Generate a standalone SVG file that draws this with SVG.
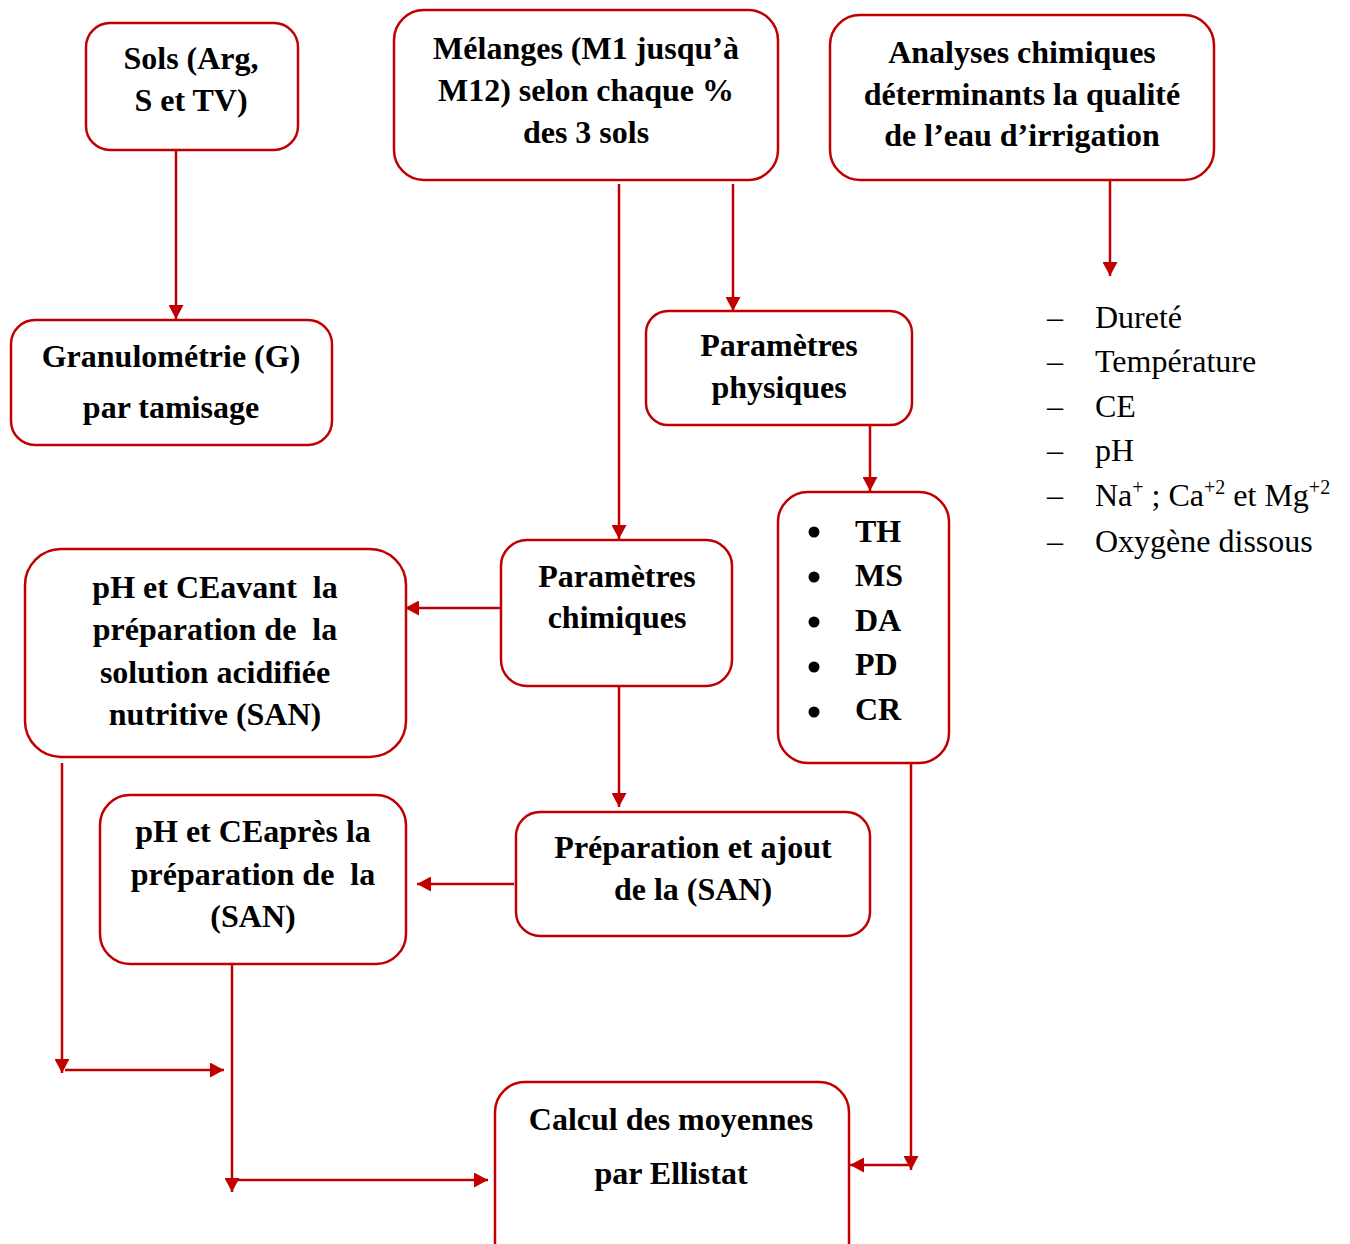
<svg xmlns="http://www.w3.org/2000/svg" width="1350" height="1244" viewBox="0 0 1350 1244">
<style>
.box{fill:#fff;stroke:#C00000;stroke-width:2.5}
.t{font-family:"Liberation Serif","Times New Roman",serif;font-weight:bold;font-size:32px;fill:#000;text-anchor:middle;white-space:pre}
.l{font-family:"Liberation Serif","Times New Roman",serif;font-size:32px;fill:#000}
.c line{stroke:#C00000;stroke-width:2.5;fill:none;marker-end:url(#ah)}
</style>
<defs>
<marker id="ah" markerUnits="userSpaceOnUse" markerWidth="15" markerHeight="15" refX="14" refY="7.5" orient="auto">
<path d="M0,0 L14,7.5 L0,15 z" fill="#C00000"/>
</marker>
</defs>
<rect width="1350" height="1244" fill="#fff"/>
<g class="c">
<line x1="176" y1="150" x2="176" y2="319"/>
<line x1="619" y1="184" x2="619" y2="539"/>
<line x1="733" y1="184" x2="733" y2="311"/>
<line x1="1110" y1="180" x2="1110" y2="276"/>
<line x1="870" y1="425" x2="870" y2="491"/>
<line x1="501" y1="608" x2="405" y2="608"/>
<line x1="619" y1="686" x2="619" y2="807"/>
<line x1="514" y1="884" x2="417" y2="884"/>
<line x1="62" y1="763" x2="62" y2="1073"/>
<line x1="65" y1="1070" x2="224" y2="1070"/>
<line x1="232" y1="964" x2="232" y2="1192"/>
<line x1="235" y1="1180" x2="488" y2="1180"/>
<line x1="911" y1="763" x2="911" y2="1170"/>
<line x1="911" y1="1165" x2="850" y2="1165"/>
</g>
<g id="sols">
<rect class="box" x="86" y="23" width="212" height="127" rx="24"/>
<text class="t" x="191" y="69">Sols (Arg,</text>
<text class="t" x="191" y="111">S et TV)</text>
</g>
<g id="melanges">
<rect class="box" x="394" y="10" width="384" height="170" rx="30"/>
<text class="t" x="586" y="59">Mélanges (M1 jusqu’à</text>
<text class="t" x="586" y="101">M12) selon chaque %</text>
<text class="t" x="586" y="143">des 3 sols</text>
</g>
<g id="analyses">
<rect class="box" x="830" y="15" width="384" height="165" rx="30"/>
<text class="t" x="1022" y="63">Analyses chimiques</text>
<text class="t" x="1022" y="105">déterminants la qualité</text>
<text class="t" x="1022" y="146">de l’eau d’irrigation</text>
</g>
<g id="liste">
<text class="l" x="1047" y="328">–</text><text class="l" x="1095" y="328">Dureté</text>
<text class="l" x="1047" y="372">–</text><text class="l" x="1095" y="372">Température</text>
<text class="l" x="1047" y="417">–</text><text class="l" x="1095" y="417">CE</text>
<text class="l" x="1047" y="461">–</text><text class="l" x="1095" y="461">pH</text>
<text class="l" x="1047" y="506">–</text><text class="l" x="1095" y="506">Na<tspan font-size="20" dy="-12">+</tspan><tspan dy="12"> ; Ca</tspan><tspan font-size="20" dy="-12">+2</tspan><tspan dy="12"> et Mg</tspan><tspan font-size="20" dy="-12">+2</tspan></text>
<text class="l" x="1047" y="552">–</text><text class="l" x="1095" y="552">Oxygène dissous</text>
</g>
<g id="granulo">
<rect class="box" x="11" y="320" width="321" height="125" rx="24"/>
<text class="t" x="171" y="367">Granulométrie (G)</text>
<text class="t" x="171" y="418">par tamisage</text>
</g>
<g id="physiques">
<rect class="box" x="646" y="311" width="266" height="114" rx="22"/>
<text class="t" x="779" y="356">Paramètres</text>
<text class="t" x="779" y="398">physiques</text>
</g>
<g id="chimiques">
<rect class="box" x="501" y="540" width="231" height="146" rx="26"/>
<text class="t" x="617" y="587">Paramètres</text>
<text class="t" x="617" y="628">chimiques</text>
</g>
<g id="mesures">
<rect class="box" x="778" y="492" width="171" height="271" rx="30"/>
<circle cx="814" cy="532" r="5.5"/>
<circle cx="814" cy="577" r="5.5"/>
<circle cx="814" cy="622" r="5.5"/>
<circle cx="814" cy="667" r="5.5"/>
<circle cx="814" cy="712" r="5.5"/>
<text class="t" x="855" y="542" text-anchor="start" style="text-anchor:start">TH</text>
<text class="t" x="855" y="586" style="text-anchor:start">MS</text>
<text class="t" x="855" y="631" style="text-anchor:start">DA</text>
<text class="t" x="855" y="675" style="text-anchor:start">PD</text>
<text class="t" x="855" y="720" style="text-anchor:start">CR</text>
</g>
<g id="avant">
<rect class="box" x="25" y="549" width="381" height="208" rx="36"/>
<text class="t" x="215" y="598">pH et CEavant  la</text>
<text class="t" x="215" y="640">préparation de  la</text>
<text class="t" x="215" y="683">solution acidifiée</text>
<text class="t" x="215" y="725">nutritive (SAN)</text>
</g>
<g id="apres">
<rect class="box" x="100" y="795" width="306" height="169" rx="30"/>
<text class="t" x="253" y="842">pH et CEaprès la</text>
<text class="t" x="253" y="885">préparation de  la</text>
<text class="t" x="253" y="927">(SAN)</text>
</g>
<g id="preparation">
<rect class="box" x="516" y="812" width="354" height="124" rx="24"/>
<text class="t" x="693" y="858">Préparation et ajout</text>
<text class="t" x="693" y="900">de la (SAN)</text>
</g>
<g id="calcul">
<rect class="box" x="495" y="1082" width="354" height="190" rx="30"/>
<text class="t" x="671" y="1130">Calcul des moyennes</text>
<text class="t" x="671" y="1184">par Ellistat</text>
</g>
</svg>
